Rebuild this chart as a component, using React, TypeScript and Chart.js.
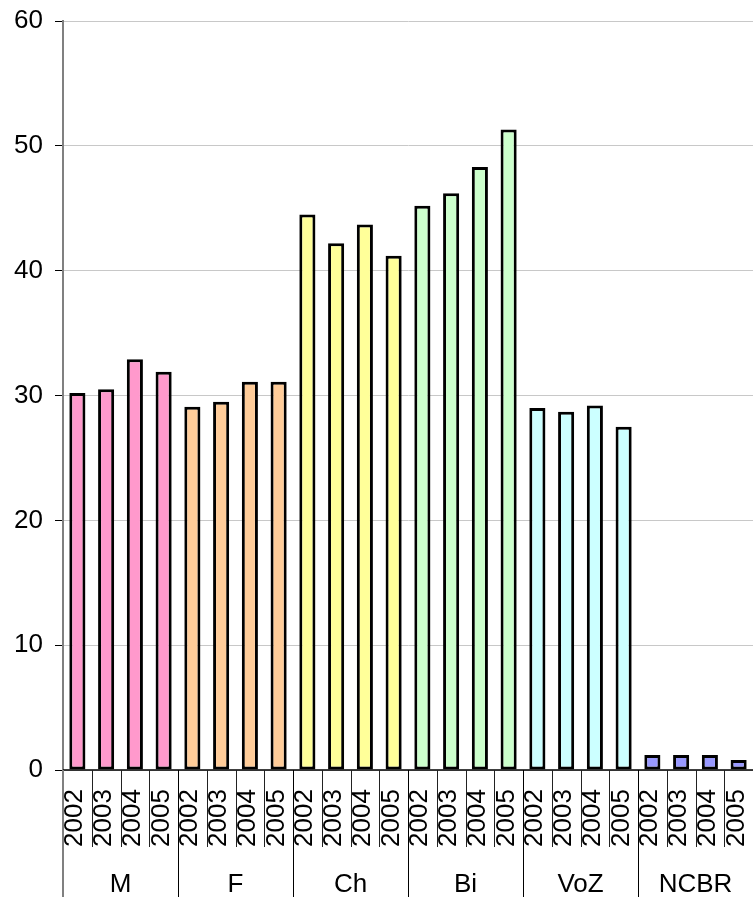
import React, { useEffect, useRef } from "react";
import { Chart, registerables } from "chart.js";

Chart.register(...registerables);

const groups = ["M", "F", "Ch", "Bi", "VoZ", "NCBR"];
const years = ["2002", "2003", "2004", "2005"];
const valuesM = [30.2, 30.5, 32.9, 31.9];
const valuesF = [29.1, 29.5, 31.1, 31.1];
const valuesCh = [44.5, 42.2, 43.7, 41.2];
const valuesBi = [45.2, 46.2, 48.3, 51.3];
const valuesVoZ = [29.0, 28.7, 29.2, 27.5];
const valuesNCBR = [1.2, 1.2, 1.2, 0.8];
const yTicks = [0, 10, 20, 30, 40, 50, 60];

const groupValues = [valuesM, valuesF, valuesCh, valuesBi, valuesVoZ, valuesNCBR];
const groupColors = ["#FF99CC", "#FFCC99", "#FFFF99", "#CCFFCC", "#CCFFFF", "#9999FF"];

const FONT = '"Liberation Sans", Arial, sans-serif';
const FS = 26;

export default function App() {
  const ref = useRef<HTMLCanvasElement | null>(null);

  useEffect(() => {
    if (!ref.current) return;
    const labels: string[] = [];
    const data: number[] = [];
    const colors: string[] = [];
    groups.forEach((g, gi) => {
      years.forEach((y, yi) => {
        labels.push(g + " " + y);
        data.push(groupValues[gi][yi]);
        colors.push(groupColors[gi]);
      });
    });

    const xLabelsPlugin = {
      id: "xLabels",
      afterDraw(chart: any) {
        const { ctx, chartArea, scales } = chart;
        const { left, right, bottom } = chartArea;
        const x = scales.x;
        const n = labels.length;
        const H = chart.height;
        const bounds: number[] = [];
        for (let i = 0; i <= n; i++) {
          if (i === 0) bounds.push(left);
          else if (i === n) bounds.push(right);
          else bounds.push((x.getPixelForValue(i - 1) + x.getPixelForValue(i)) / 2);
        }
        ctx.save();
        ctx.strokeStyle = "#000";
        ctx.lineWidth = 1.5;
        ctx.beginPath();
        ctx.moveTo(left, bottom);
        ctx.lineTo(right, bottom);
        ctx.stroke();
        ctx.lineWidth = 1;
        for (let i = 1; i <= n; i++) {
          const bx = Math.round(bounds[i]) + 0.5;
          const isGroup = i % years.length === 0;
          ctx.strokeStyle = isGroup ? "#000" : "#222";
          ctx.beginPath();
          ctx.moveTo(bx, bottom);
          ctx.lineTo(bx, isGroup ? H : bottom + 77);
          ctx.stroke();
        }
        ctx.strokeStyle = "#808080";
        ctx.lineWidth = 2;
        ctx.beginPath();
        ctx.moveTo(left, bottom);
        ctx.lineTo(left, H);
        ctx.stroke();
        ctx.fillStyle = "#000";
        ctx.font = FS + "px " + FONT;
        ctx.textAlign = "left";
        ctx.textBaseline = "alphabetic";
        for (let i = 0; i < n; i++) {
          const cx = x.getPixelForValue(i);
          ctx.save();
          ctx.translate(cx + 5, bottom + 77);
          ctx.rotate(-Math.PI / 2);
          ctx.fillText(years[i % years.length], 0, 0);
          ctx.restore();
        }
        ctx.textAlign = "center";
        for (let g = 0; g < groups.length; g++) {
          const gx = (bounds[g * years.length] + bounds[(g + 1) * years.length]) / 2;
          ctx.fillText(groups[g], gx, bottom + 122);
        }
        ctx.restore();
      },
    };

    const chart = new Chart(ref.current, {
      type: "bar",
      data: {
        labels,
        datasets: [
          {
            data,
            backgroundColor: colors,
            borderColor: "#000",
            borderWidth: 3,
            borderSkipped: false,
            barPercentage: 0.56,
            categoryPercentage: 1,
          },
        ],
      },
      options: {
        animation: false,
        responsive: false,
        maintainAspectRatio: false,
        layout: { padding: { top: 21, right: 0, bottom: 127, left: 0 } },
        plugins: {
          legend: { display: false },
          tooltip: { enabled: false },
          title: { display: false },
        },
        scales: {
          x: { display: false },
          y: {
            min: 0,
            max: 60,
            afterFit(scale: any) {
              scale.width = 63;
              scale.paddingTop = 0;
              scale.paddingBottom = 0;
            },
            afterBuildTicks(scale: any) {
              scale.ticks = yTicks.map((v) => ({ value: v }));
            },
            ticks: {
              color: "#000",
              font: { family: FONT, size: FS, lineHeight: 0.6 },
              padding: 12,
            },
            grid: {
              color: "#c8c8c8",
              tickColor: "#000",
              tickLength: 8,
              lineWidth: 1,
            },
            border: { color: "#808080", width: 2 },
          },
        },
      },
      plugins: [xLabelsPlugin],
    });
    return () => chart.destroy();
  }, []);

  return (
    <div style={{ position: "absolute", left: 0, top: 0, width: 753, height: 897, background: "#fff" }}>
      <canvas ref={ref} width={753} height={897} style={{ display: "block", width: 753, height: 897 }} />
    </div>
  );
}
